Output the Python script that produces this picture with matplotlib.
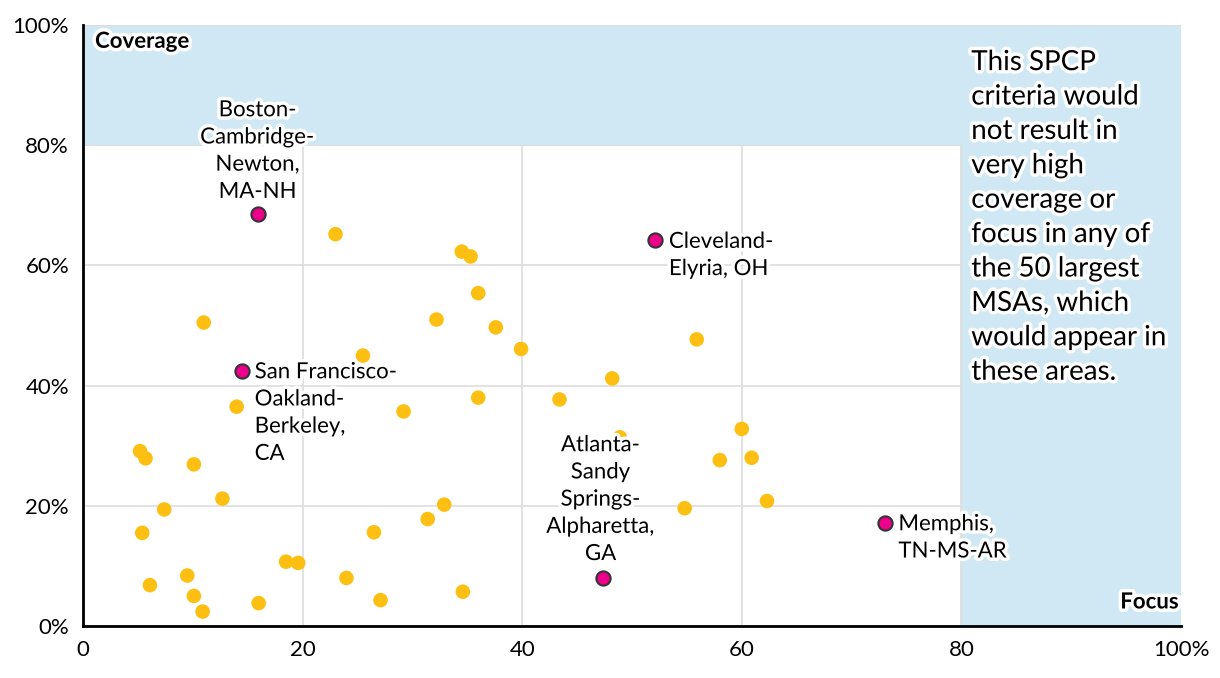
import matplotlib.pyplot as plt
import matplotlib.patheffects as pe
from matplotlib.patches import Polygon

plt.rcParams["font.family"] = ["Lato", "DejaVu Sans"]

# other MSAs (focus %, coverage %)
focus = [23.0, 34.5, 35.3, 36.0, 32.2, 37.6, 11.0, 39.9, 25.5, 55.9,
         48.2, 14.0, 29.2, 36.0, 43.4, 48.9, 60.0, 5.2, 5.7, 10.1,
         58.0, 60.9, 62.3, 54.8, 12.7, 7.4, 5.4, 32.9, 31.4, 26.5,
         18.5, 19.6, 9.5, 6.1, 24.0, 10.1, 10.9, 16.0, 27.1, 34.6]
coverage = [65.2, 62.3, 61.5, 55.4, 51.0, 49.7, 50.5, 46.1, 45.0, 47.7,
            41.2, 36.5, 35.7, 38.0, 37.7, 31.4, 32.8, 29.1, 27.9, 26.9,
            27.6, 28.0, 20.8, 19.6, 21.2, 19.4, 15.5, 20.2, 17.8, 15.6,
            10.7, 10.5, 8.4, 6.8, 8.0, 5.0, 2.4, 3.8, 4.3, 5.7]

# highlighted MSAs
hi_names = ["Boston-\nCambridge-\nNewton,\nMA-NH",
            "San Francisco-\nOakland-\nBerkeley,\nCA",
            "Cleveland-\nElyria, OH",
            "Atlanta-\nSandy\nSprings-\nAlpharetta,\nGA",
            "Memphis,\nTN-MS-AR"]
hi_focus = [15.9, 14.5, 52.1, 47.4, 73.0]
hi_coverage = [68.5, 42.5, 64.2, 8.0, 17.2]

xticks = [0, 20, 40, 60, 80, 100]
xtick_labels = ["0", "20", "40", "60", "80", "100%"]
yticks = [0, 20, 40, 60, 80, 100]
ytick_labels = ["0%", "20%", "40%", "60%", "80%", "100%"]
threshold = 80

note = ("This SPCP\ncriteria would\nnot result in\nvery high\ncoverage or\n"
        "focus in any of\nthe 50 largest\nMSAs, which\nwould appear in\nthese areas.")

halo = [pe.withStroke(linewidth=5, foreground="white")]

fig = plt.figure(figsize=(12.2, 6.78), dpi=100)
ax = fig.add_axes([0.068, 0.0767, 0.9, 0.8863])
ax.set_xlim(0, 100)
ax.set_ylim(0, 100)

ax.grid(True, color="#dedddd", lw=1.2, zorder=0)
ax.set_axisbelow(True)

band = Polygon([(0, threshold), (0, 100), (100, 100), (100, 0),
                (threshold, 0), (threshold, threshold)],
               closed=True, facecolor="#cfe8f3", edgecolor="#dedddd",
               lw=0.8, zorder=1)
ax.add_patch(band)

ax.scatter(focus, coverage, s=110, color="#fdbf11", edgecolor="none", zorder=3)
ax.scatter(hi_focus, hi_coverage, s=105, color="#ec008b",
           edgecolor="#353535", lw=1.5, zorder=4)

# label placement: (dx, dy, ha, va)
place = [(0, 9, "center", "bottom"),
         (9, 6, "left", "top"),
         (10, 6, "left", "top"),
         (-2, 10, "center", "bottom"),
         (10, 6, "left", "top")]
for name, x, y, (dx, dy, ha, va) in zip(hi_names, hi_focus, hi_coverage, place):
    ax.annotate(name, (x, y), xytext=(dx, dy), textcoords="offset points",
                ha=ha, va=va, fontsize=16, linespacing=1.45,
                multialignment=ha,
                path_effects=halo, zorder=5)

ax.text(1.1, 97.3, "Coverage", fontsize=16, fontweight="bold",
        ha="left", va="center", path_effects=halo, zorder=5)
ax.text(99.8, 4.0, "Focus", fontsize=16, fontweight="bold",
        ha="right", va="center", path_effects=halo, zorder=5)
ax.text(80.9, 96.0, note, fontsize=20, linespacing=1.4,
        ha="left", va="top", path_effects=halo, zorder=5)

ax.set_xticks(xticks)
ax.set_xticklabels(xtick_labels)
ax.set_yticks(yticks)
ax.set_yticklabels(ytick_labels)
ax.tick_params(length=0, labelsize=16, pad=10)

for s in ["top", "right"]:
    ax.spines[s].set_visible(False)
for s in ["left", "bottom"]:
    ax.spines[s].set_linewidth(2)
    ax.spines[s].set_zorder(6)

fig.savefig("out.png", dpi=100)
